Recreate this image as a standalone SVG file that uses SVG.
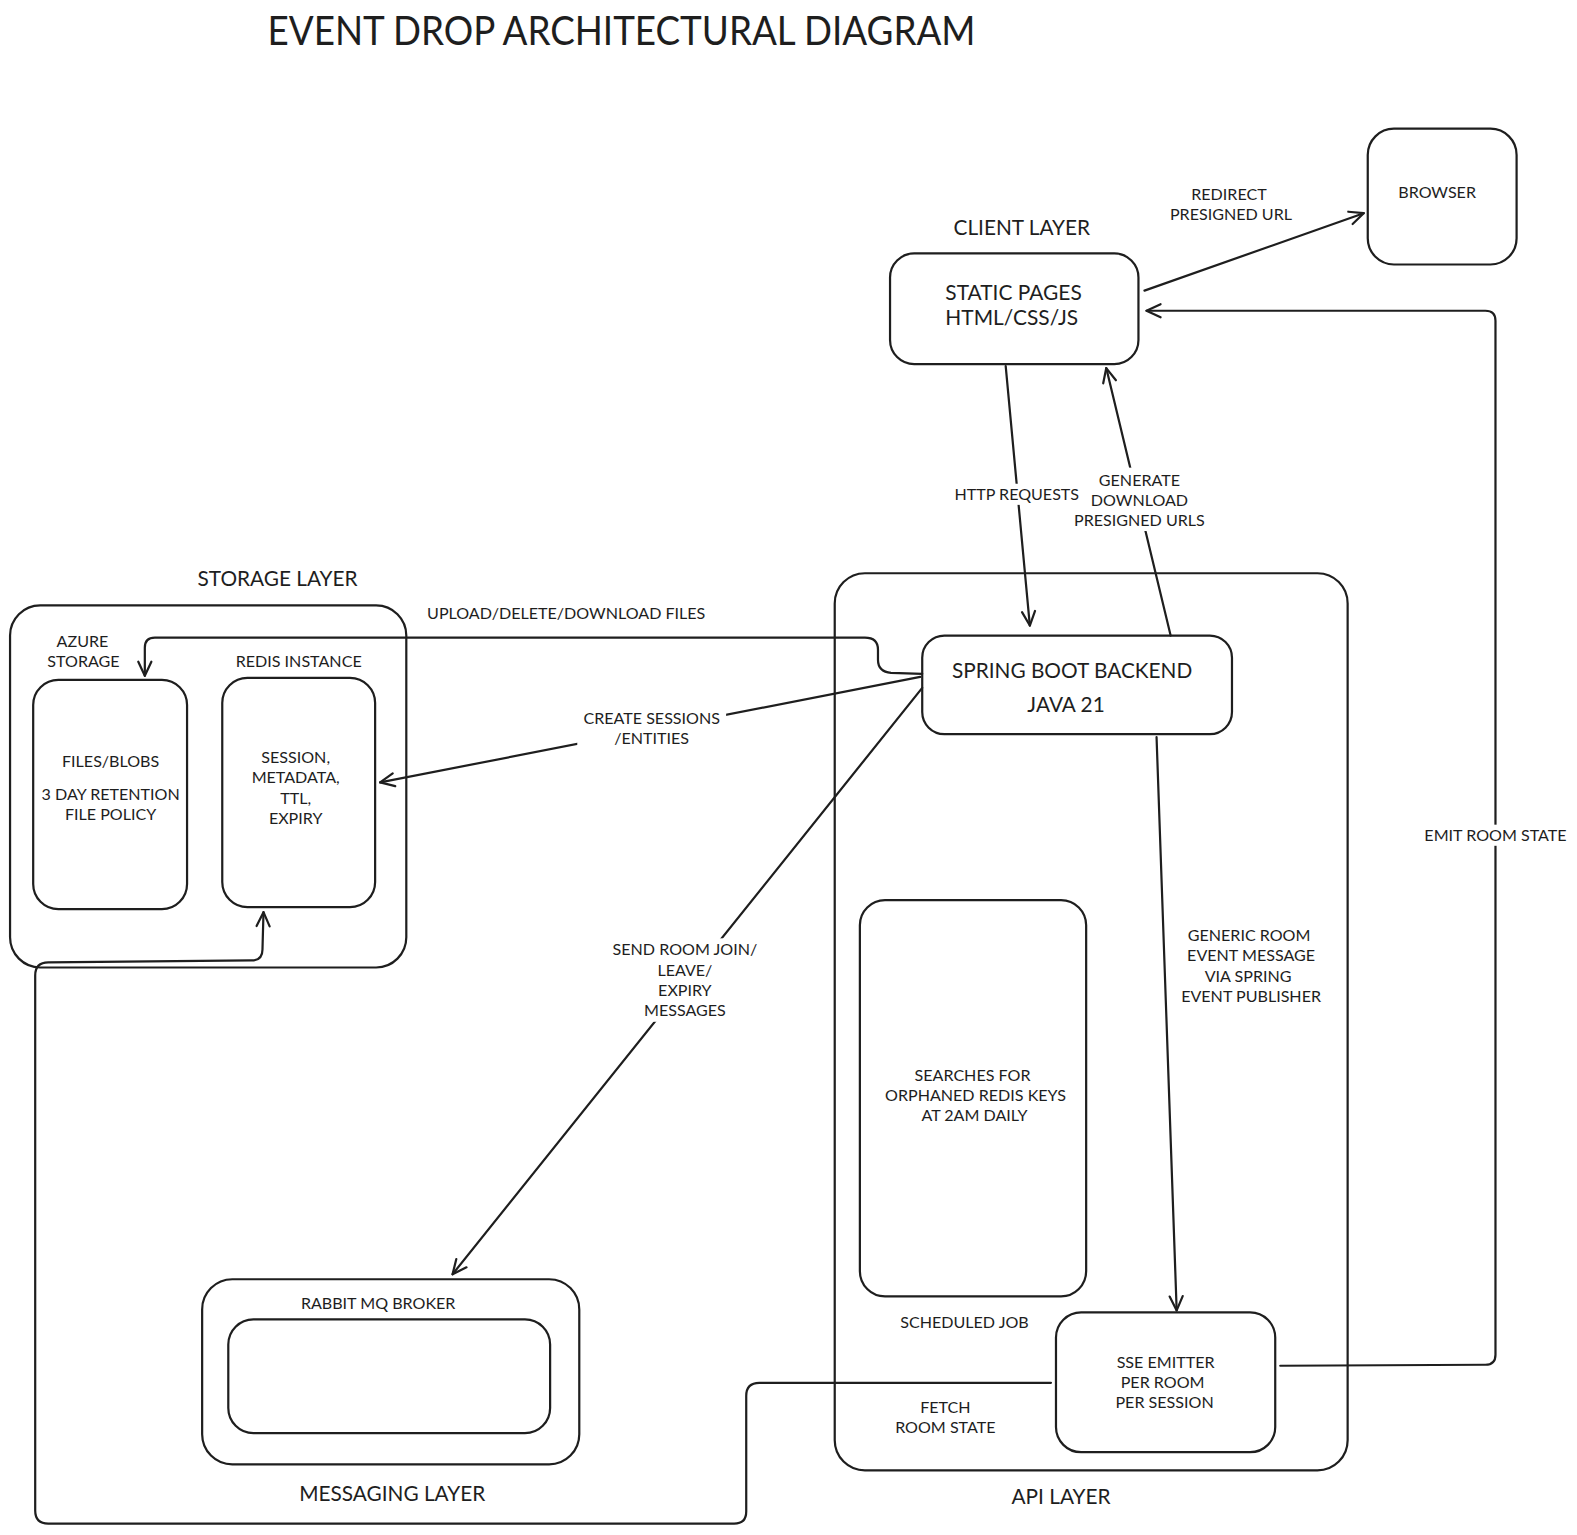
<svg xmlns="http://www.w3.org/2000/svg" width="1577" height="1535" viewBox="0 0 1577 1535">
<defs>
<style>
.box{fill:none;stroke:#1e1e1e;stroke-width:2.2}
.ln{fill:none;stroke:#1e1e1e;stroke-width:2.2;stroke-linecap:round;stroke-linejoin:round}
.arr{marker-end:url(#ah)}
text{font-family:Lato,"Noto Sans","Liberation Sans",sans-serif;fill:#1e1e1e}
.s{font-size:16px;text-anchor:middle}
.m{font-size:20.7px;text-anchor:middle}
.bg{fill:#ffffff;stroke:none}
</style>
<marker id="ah" viewBox="-16 -10 20 20" markerWidth="20" markerHeight="20" refX="0" refY="0" orient="auto" markerUnits="userSpaceOnUse">
<path d="M-14,-6.5 L0,0 L-14,6.5" fill="none" stroke="#1e1e1e" stroke-width="2.2" stroke-linecap="round" stroke-linejoin="round"/>
</marker>
</defs>
<rect width="1577" height="1535" fill="#ffffff"/>
<g transform="scale(1.0057)">
<text x="266" y="45" font-size="40" textLength="704" lengthAdjust="spacingAndGlyphs">EVENT DROP ARCHITECTURAL DIAGRAM</text>

<g id="layers">
<g id="client-layer"><text class="m" x="1016" y="234">CLIENT LAYER</text></g>
<g id="api-layer"><rect class="box" x="830" y="570" width="510" height="892" rx="30"/><text class="m" x="1055" y="1495">API LAYER</text></g>
<g id="storage-layer"><rect class="box" x="10" y="602" width="394" height="360" rx="30"/><text class="m" x="276" y="583">STORAGE LAYER</text></g>
<g id="messaging-layer"><rect class="box" x="201" y="1272" width="375" height="184" rx="30"/><text class="m" x="390" y="1492">MESSAGING LAYER</text></g>
</g>

<g id="connectors">
<path class="ln arr" d="M1138,289 L1356,212"/>
<path class="ln arr" d="M1273,1358 L1477,1357 Q1487,1357 1487,1347 L1487,319 Q1487,309 1477,309 L1140,309"/>
<path class="ln arr" d="M1000,364 L1024,622"/>
<path class="ln arr" d="M1164,632 L1100,366"/>
<path class="ln arr" d="M917,670 L886,669 Q873,668 873,656 L873,646 Q873,634 860,634 L154,634 Q144,634 144,644 L144,672"/>
<path class="ln arr" d="M915,673 L378,778"/>
<path class="ln arr" d="M917,684 L450,1267"/>
<path class="ln arr" d="M1150,733 L1170,1303"/>
<path class="ln arr" d="M1045,1375 L755,1375 Q742,1375 742,1388 L742,1503 Q742,1515 730,1515 L48,1515 Q35,1515 35,1502 L35,970 Q35,957 48,957 L250,955 Q261,955 261,944 L262,907"/>
</g>

<g id="labels">
<rect class="bg" x="1412" y="820" width="150" height="21"/>
<rect class="bg" x="944" y="481" width="135" height="21"/>
<rect class="bg" x="1085" y="465" width="96" height="43"/>
<rect class="bg" x="1064" y="507" width="138" height="21"/>
<rect class="bg" x="574" y="703" width="148" height="43"/>
<rect class="bg" x="608" y="933" width="146" height="83"/>
<text class="s" x="1222" y="199">REDIRECT</text>
<text class="s" x="1224" y="219">PRESIGNED URL</text>
<text class="s" x="1487" y="836">EMIT ROOM STATE</text>
<text class="s" x="1011" y="497">HTTP REQUESTS</text>
<text class="s" x="1133" y="483">GENERATE</text>
<text class="s" x="1133" y="503">DOWNLOAD</text>
<text class="s" x="1133" y="523">PRESIGNED URLS</text>
<text class="s" x="563" y="615">UPLOAD/DELETE/DOWNLOAD FILES</text>
<text class="s" x="648" y="720">CREATE SESSIONS</text>
<text class="s" x="648" y="740">/ENTITIES</text>
<text class="s" x="681" y="950">SEND ROOM JOIN/</text>
<text class="s" x="681" y="970">LEAVE/</text>
<text class="s" x="681" y="990">EXPIRY</text>
<text class="s" x="681" y="1010">MESSAGES</text>
<text class="s" x="1242" y="936">GENERIC ROOM</text>
<text class="s" x="1244" y="956">EVENT MESSAGE</text>
<text class="s" x="1241" y="976">VIA SPRING</text>
<text class="s" x="1244" y="996">EVENT PUBLISHER</text>
<text class="s" x="940" y="1405">FETCH</text>
<text class="s" x="940" y="1425">ROOM STATE</text>
</g>

<g id="static-pages">
<rect class="box" x="885" y="252" width="247" height="110" rx="24"/>
<text x="940" y="298" font-size="20.8">STATIC PAGES</text>
<text x="940" y="323" font-size="20.8">HTML/CSS/JS</text>
</g>
<g id="browser">
<rect class="box" x="1360" y="128" width="148" height="135" rx="26"/>
<text class="s" x="1429" y="197">BROWSER</text>
</g>
<g id="spring-boot">
<rect class="box" x="917" y="632" width="308" height="98" rx="22"/>
<text class="m" x="1066" y="674" font-size="21.3">SPRING BOOT BACKEND</text>
<text class="m" x="1060" y="708" font-size="21.3">JAVA 21</text>
</g>
<g id="azure-storage">
<text class="s" x="82" y="643">AZURE</text>
<text class="s" x="83" y="663">STORAGE</text>
<rect class="box" x="33" y="676" width="153" height="228" rx="25"/>
<text class="s" x="110" y="763" font-size="17.5">FILES/BLOBS</text>
<text class="s" x="110" y="795">3 DAY RETENTION</text>
<text class="s" x="110" y="815">FILE POLICY</text>
</g>
<g id="redis">
<text class="s" x="297" y="663">REDIS INSTANCE</text>
<rect class="box" x="221" y="674" width="152" height="228" rx="25"/>
<text class="s" x="294" y="759">SESSION,</text>
<text class="s" x="294" y="779">METADATA,</text>
<text class="s" x="294" y="799">TTL,</text>
<text class="s" x="294" y="819">EXPIRY</text>
</g>
<g id="rabbitmq">
<text class="s" x="376" y="1302">RABBIT MQ BROKER</text>
<rect class="box" x="227" y="1312" width="320" height="113" rx="25"/>
</g>
<g id="scheduled-job">
<rect class="box" x="855" y="895" width="225" height="394" rx="25"/>
<text class="s" x="967" y="1075">SEARCHES FOR</text>
<text class="s" x="970" y="1095">ORPHANED REDIS KEYS</text>
<text class="s" x="969" y="1115">AT 2AM DAILY</text>
<text class="s" x="959" y="1320">SCHEDULED JOB</text>
</g>
<g id="sse-emitter">
<rect class="box" x="1050" y="1305" width="218" height="139" rx="25"/>
<text class="s" x="1159" y="1360">SSE EMITTER</text>
<text class="s" x="1156" y="1380">PER ROOM</text>
<text class="s" x="1158" y="1400">PER SESSION</text>
</g>
</g>
</svg>
